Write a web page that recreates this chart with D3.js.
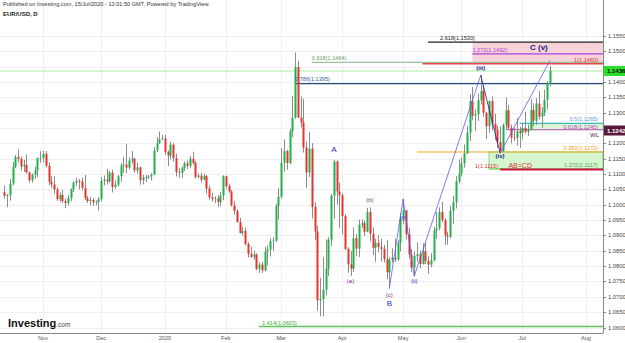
<!DOCTYPE html>
<html>
<head>
<meta charset="utf-8">
<script src="https://cdn.jsdelivr.net/npm/d3@7"></script>
<style>
  body { margin: 0; background: #fff; }
  svg { display: block; font-family: "Liberation Sans", Arial, sans-serif; }
</style>
</head>
<body>
<svg id="chart" width="625" height="343"></svg>
<script>
// daily EUR/USD candles, [open, high, low, close], weekdays from 14 Oct 2019
var oct2019 = [
  [1.1041,1.1063,1.1020,1.1029],[1.1029,1.1035,1.0992,1.1032],[1.1032,1.1084,1.1013,1.1069],
  [1.1069,1.1139,1.1063,1.1124],[1.1124,1.1162,1.1120,1.1156],[1.1156,1.1180,1.1138,1.1150],
  [1.1150,1.1157,1.1112,1.1125],[1.1125,1.1147,1.1107,1.1130],[1.1130,1.1164,1.1102,1.1105],
  [1.1105,1.1109,1.1072,1.1080],[1.1080,1.1102,1.1072,1.1098],[1.1098,1.1125,1.1084,1.1112],
  [1.1112,1.1154,1.1090,1.1152],[1.1152,1.1175,1.1137,1.1152]
];
var nov2019 = [
  [1.1152,1.1176,1.1138,1.1166],[1.1166,1.1175,1.1122,1.1127],[1.1127,1.1139,1.1064,1.1075],
  [1.1075,1.1093,1.1055,1.1066],[1.1066,1.1092,1.1036,1.1050],[1.1050,1.1057,1.1013,1.1018],
  [1.1018,1.1040,1.1010,1.1032],[1.1032,1.1048,1.1005,1.1012],[1.1012,1.1020,1.0989,1.1006],
  [1.1006,1.1032,1.0997,1.1022],[1.1022,1.1053,1.1012,1.1051],[1.1051,1.1077,1.1042,1.1072],
  [1.1072,1.1088,1.1062,1.1077],[1.1077,1.1084,1.1050,1.1076],[1.1076,1.1088,1.1046,1.1055],
  [1.1055,1.1097,1.1015,1.1021],[1.1021,1.1029,1.1006,1.1012],[1.1012,1.1026,1.0998,1.1016],
  [1.1016,1.1021,1.0996,1.1008],[1.1008,1.1014,1.0999,1.1010],[1.1010,1.1025,1.0981,1.1018]
];
var dec2019 = [
  [1.1018,1.1090,1.1011,1.1078],[1.1078,1.1095,1.1063,1.1082],[1.1082,1.1117,1.1066,1.1077],
  [1.1077,1.1110,1.1071,1.1105],[1.1105,1.1115,1.1040,1.1058],[1.1058,1.1079,1.1052,1.1065],
  [1.1065,1.1097,1.1060,1.1093],[1.1093,1.1136,1.1075,1.1128],[1.1128,1.1155,1.1105,1.1131],
  [1.1131,1.1199,1.1103,1.1121],[1.1121,1.1155,1.1115,1.1144],[1.1144,1.1175,1.1135,1.1150],
  [1.1150,1.1153,1.1105,1.1112],[1.1112,1.1137,1.1102,1.1122],[1.1122,1.1124,1.1065,1.1080],
  [1.1080,1.1097,1.1066,1.1089],[1.1089,1.1097,1.1074,1.1090],[1.1090,1.1097,1.1084,1.1092],
  [1.1092,1.1103,1.1079,1.1098],[1.1098,1.1188,1.1097,1.1177],[1.1177,1.1220,1.1172,1.1200],
  [1.1200,1.1239,1.1199,1.1213]
];
var jan2020 = [
  [1.1213,1.1228,1.1211,1.1216],[1.1216,1.1228,1.1163,1.1172],[1.1172,1.1177,1.1126,1.1160],
  [1.1160,1.1206,1.1148,1.1196],[1.1196,1.1201,1.1141,1.1152],[1.1152,1.1167,1.1092,1.1106],
  [1.1106,1.1121,1.1087,1.1104],[1.1104,1.1125,1.1087,1.1121],[1.1121,1.1141,1.1110,1.1135],
  [1.1135,1.1144,1.1116,1.1127],[1.1127,1.1159,1.1120,1.1150],[1.1150,1.1173,1.1131,1.1136],
  [1.1136,1.1143,1.1085,1.1091],[1.1091,1.1102,1.1087,1.1095],[1.1095,1.1104,1.1073,1.1082],
  [1.1082,1.1102,1.1081,1.1093],[1.1093,1.1097,1.1036,1.1053],[1.1053,1.1063,1.1016,1.1024],
  [1.1024,1.1039,1.1010,1.1019],[1.1019,1.1028,1.1005,1.1021],[1.1021,1.1032,1.0992,1.1009],
  [1.1009,1.1041,1.0995,1.1030],[1.1030,1.1096,1.1015,1.1093]
];
var feb2020 = [
  [1.1093,1.1095,1.1052,1.1061],[1.1061,1.1069,1.1039,1.1044],[1.1044,1.1048,1.0994,1.0998],
  [1.0998,1.1013,1.0967,1.0980],[1.0980,1.0985,1.0941,1.0944],[1.0944,1.0958,1.0906,1.0908],
  [1.0908,1.0928,1.0899,1.0915],[1.0915,1.0925,1.0867,1.0872],[1.0872,1.0878,1.0828,1.0840],
  [1.0840,1.0863,1.0827,1.0830],[1.0830,1.0850,1.0821,1.0838],[1.0838,1.0842,1.0786,1.0791],
  [1.0791,1.0812,1.0778,1.0805],[1.0805,1.0814,1.0778,1.0786],[1.0786,1.0863,1.0783,1.0847],
  [1.0847,1.0868,1.0802,1.0854],[1.0854,1.0891,1.0831,1.0881],[1.0881,1.0894,1.0850,1.0883],
  [1.0883,1.1004,1.0879,1.0996],[1.0996,1.1054,1.0952,1.1026]
];
var mar2020 = [
  [1.1026,1.1185,1.1020,1.1137],[1.1137,1.1213,1.1108,1.1175],[1.1175,1.1180,1.1114,1.1136],
  [1.1136,1.1248,1.1132,1.1240],[1.1240,1.1355,1.1220,1.1284],[1.1284,1.1496,1.1280,1.1449],
  [1.1449,1.1469,1.1283,1.1284],[1.1284,1.1353,1.1252,1.1268],[1.1268,1.1345,1.1170,1.1187],
  [1.1187,1.1206,1.1055,1.1105],[1.1105,1.1237,1.1091,1.1183],[1.1183,1.1201,1.0955,1.0993],
  [1.0993,1.1008,1.0884,1.0913],[1.0913,1.0932,1.0655,1.0689],[1.0689,1.0762,1.0637,1.0693],
  [1.0693,1.0829,1.0636,1.0723],[1.0723,1.0887,1.0705,1.0792],[1.0792,1.0894,1.0768,1.0886],
  [1.0886,1.1035,1.0865,1.1030],[1.1030,1.1147,1.0955,1.1141],[1.1141,1.1145,1.1000,1.1043],
  [1.1043,1.1072,1.0925,1.1031]
];
var apr2020 = [
  [1.1031,1.1036,1.0904,1.0963],[1.0963,1.0970,1.0852,1.0856],[1.0856,1.0862,1.0779,1.0806],
  [1.0806,1.0850,1.0768,1.0792],[1.0792,1.0926,1.0781,1.0891],[1.0891,1.0905,1.0832,1.0857],
  [1.0857,1.0952,1.0830,1.0935],[1.0935,1.0953,1.0925,1.0940],[1.0940,1.0949,1.0898,1.0912],
  [1.0912,1.0990,1.0910,1.0976],[1.0976,1.0992,1.0881,1.0905],[1.0905,1.0926,1.0836,1.0860],
  [1.0860,1.0889,1.0814,1.0876],[1.0876,1.0901,1.0845,1.0862],[1.0862,1.0890,1.0815,1.0856],
  [1.0856,1.0869,1.0812,1.0823],[1.0823,1.0886,1.0757,1.0780],[1.0780,1.0829,1.0727,1.0820],
  [1.0820,1.0858,1.0812,1.0827],[1.0827,1.0890,1.0813,1.0822],[1.0822,1.0885,1.0817,1.0875],
  [1.0875,1.0973,1.0848,1.0954]
];
var may2020 = [
  [1.0954,1.1019,1.0937,1.0982],[1.0982,1.0983,1.0887,1.0904],[1.0904,1.0926,1.0824,1.0838],
  [1.0838,1.0855,1.0781,1.0796],[1.0796,1.0848,1.0767,1.0833],[1.0833,1.0877,1.0815,1.0839],
  [1.0839,1.0850,1.0794,1.0807],[1.0807,1.0874,1.0805,1.0848],[1.0848,1.0876,1.0806,1.0817],
  [1.0817,1.0832,1.0775,1.0805],[1.0805,1.0842,1.0796,1.0819],[1.0819,1.0928,1.0815,1.0916],
  [1.0916,1.0977,1.0889,1.0923],[1.0923,1.0992,1.0917,1.0977],[1.0977,1.1009,1.0943,1.0950],
  [1.0950,1.0955,1.0869,1.0900],[1.0900,1.0912,1.0870,1.0896],[1.0896,1.0996,1.0890,1.0980],
  [1.0980,1.1030,1.0938,1.1008],[1.1008,1.1093,1.0988,1.1077],[1.1077,1.1147,1.1070,1.1101]
];
var jun2020 = [
  [1.1101,1.1154,1.1093,1.1135],[1.1135,1.1196,1.1121,1.1168],[1.1168,1.1257,1.1166,1.1235],
  [1.1235,1.1361,1.1208,1.1338],[1.1338,1.1384,1.1275,1.1290],[1.1290,1.1311,1.1241,1.1295],
  [1.1295,1.1362,1.1273,1.1341],[1.1341,1.1422,1.1327,1.1371],[1.1371,1.1389,1.1287,1.1300],
  [1.1300,1.1303,1.1214,1.1256],[1.1256,1.1340,1.1235,1.1338],[1.1338,1.1353,1.1242,1.1264],
  [1.1264,1.1297,1.1211,1.1245],[1.1245,1.1257,1.1185,1.1204],[1.1204,1.1256,1.1168,1.1175],
  [1.1175,1.1265,1.1171,1.1260],[1.1260,1.1349,1.1247,1.1308],[1.1308,1.1325,1.1245,1.1251],
  [1.1251,1.1261,1.1200,1.1219],[1.1219,1.1250,1.1208,1.1218],[1.1218,1.1283,1.1193,1.1240],
  [1.1240,1.1255,1.1186,1.1234]
];
var jul2020 = [
  [1.1234,1.1265,1.1213,1.1250],[1.1250,1.1303,1.1232,1.1238],[1.1238,1.1262,1.1224,1.1245],
  [1.1245,1.1345,1.1244,1.1309],[1.1309,1.1330,1.1256,1.1274],[1.1274,1.1347,1.1260,1.1330],
  [1.1330,1.1371,1.1278,1.1287],[1.1287,1.1318,1.1251,1.1300],[1.1300,1.1375,1.1289,1.1342],
  [1.1342,1.1403,1.1311,1.1397],[1.1397,1.1452,1.1386,1.1436]
];

var priceTicks = [1.1550,1.1500,1.1450,1.1400,1.1350,1.1300,1.1250,1.1200,1.1150,1.1100,
  1.1050,1.1000,1.0950,1.0900,1.0850,1.0800,1.0750,1.0700,1.0650,1.0600];
var monthLabels = ["Nov","Dec","2020","Feb","Mar","Apr","May","Jun","Jul","Aug"];
var monthStarts = ["2019-11-01","2019-12-02","2020-01-02","2020-02-03","2020-03-02",
  "2020-04-01","2020-05-01","2020-06-01","2020-07-01","2020-08-03"];

// fibonacci / target levels drawn on the chart: [label, price, start date]
var fibLevels = [
  ["2.618(1.1530)", 1.1530, "2020-05-14"],
  ["1.272(1.1492)", 1.1492, "2020-06-05"],
  ["1(1.1460)",     1.1460, "2020-05-12"],
  ["0.618(1.1464)", 1.1464, "2020-03-17"],
  ["0.786(1.1395)", 1.1395, "2020-03-09"],
  ["0.5(1.1265)",   1.1265, "2020-06-30"],
  ["0.618(1.1245)", 1.1245, "2020-06-23"],
  ["0.382(1.1172)", 1.1172, "2020-05-08"],
  ["1.272(1.1117)", 1.1117, "2020-06-15"],
  ["1(1.1115)",     1.1115, "2020-06-19"],
  ["1.414(1.0603)", 1.0603, "2020-02-19"]
];
var lastPrice = 1.1436;
var markPrice = 1.1242;

// elliott wave pivots: [date, price]
var wavePoints = [
  ["2020-04-24",1.0727],["2020-05-01",1.1019],["2020-05-07",1.0767],
  ["2020-06-10",1.1422],["2020-06-19",1.1168],["2020-07-15",1.1470]
];
// wave labels: [text, date, price, group]
var waveLabels = [
  ["A","2020-03-27",1.1172,"major"],["B","2020-04-24",1.0670,"major"],
  ["(a)","2020-04-06",1.0745,"minor"],["(b)","2020-04-15",1.1010,"minor"],["(c)","2020-04-24",1.0700,"minor"],
  ["(i)","2020-05-01",1.0950,"sub"],["(ii)","2020-05-07",1.0745,"sub"],
  ["(iii)","2020-06-10",1.1440,"top"],["(iv)","2020-06-19",1.1152,"top"],["C (v)","2020-07-09",1.1503,"top"]
];

var svg = d3.select("#chart");
var plotRight = 603, plotBottom = 333;

var allCandles = [].concat(oct2019, nov2019, dec2019, jan2020, feb2020, mar2020, apr2020, may2020, jun2020, jul2020);
var days = d3.timeDay.range(new Date(2019, 9, 14), new Date(2020, 7, 8))
  .filter(function(d){ return d.getDay() > 0 && d.getDay() < 6; });
var fmt = d3.timeFormat("%Y-%m-%d");
var dayIndex = {};
days.forEach(function(d, i){ dayIndex[fmt(d)] = i; });

var x = d3.scaleLinear().domain([14, 210]).range([43, 586]);
var y = d3.scaleLinear().domain([1.0600, 1.1550]).range([327.5, 36]);
var xd = function(s){ return x(dayIndex[s]); };

svg.append("defs").append("clipPath").attr("id", "plot")
  .append("rect").attr("x", 0).attr("y", 0).attr("width", plotRight).attr("height", plotBottom);

// grid
var grid = svg.append("g").attr("clip-path", "url(#plot)");
grid.selectAll(".hg").data(priceTicks).enter().append("line")
  .attr("x1", 0).attr("x2", plotRight)
  .attr("y1", function(d){ return Math.round(y(d)) + 0.5; })
  .attr("y2", function(d){ return Math.round(y(d)) + 0.5; })
  .style("stroke", "#efefef");
grid.selectAll(".vg").data(monthStarts).enter().append("line")
  .attr("x1", function(d){ return Math.round(xd(d)) + 0.5; })
  .attr("x2", function(d){ return Math.round(xd(d)) + 0.5; })
  .attr("y1", 0).attr("y2", plotBottom)
  .style("stroke", "#efefef");

// header text
svg.append("text").attr("x", 3).attr("y", 6).attr("font-size", 5.6).attr("fill", "#333")
  .text("Published on Investing.com, 15/Jul/2020 - 13:01:50 GMT, Powered by TradingView.");
svg.append("text").attr("x", 3).attr("y", 16).attr("font-size", 6).attr("font-weight", "bold").attr("fill", "#222")
  .text("EUR/USD, D");

var plot = svg.append("g").attr("clip-path", "url(#plot)");

// boxes behind the levels
var levelY = function(label){ return y(fibLevels.find(function(l){ return l[0] == label; })[1]); };
plot.append("rect")
  .attr("x", xd("2020-06-05")).attr("y", levelY("2.618(1.1530)"))
  .attr("width", plotRight - xd("2020-06-05"))
  .attr("height", levelY("1(1.1460)") - levelY("2.618(1.1530)"))
  .style("fill", "#f7d3d8");
plot.append("rect")
  .attr("x", xd("2020-06-15")).attr("y", levelY("0.382(1.1172)"))
  .attr("width", plotRight - xd("2020-06-15"))
  .attr("height", levelY("1.272(1.1117)") - levelY("0.382(1.1172)"))
  .style("fill", "#d5f7d0").style("stroke", "#7fdc6f").style("stroke-width", 1);
plot.append("rect")
  .attr("x", xd("2020-07-06")).attr("y", levelY("0.5(1.1265)"))
  .attr("width", plotRight - xd("2020-07-06"))
  .attr("height", levelY("0.618(1.1245)") - levelY("0.5(1.1265)"))
  .style("fill", "#dcf7d6").style("stroke", "#7fdc6f").style("stroke-width", 1);

// last price line
plot.append("line").attr("x1", 0).attr("x2", plotRight)
  .attr("y1", y(lastPrice)).attr("y2", y(lastPrice))
  .style("stroke", "#a6f0a0").style("stroke-width", 1);

// level lines
var levelStyle = {
  "2.618(1.1530)": ["#222", 1.2], "1.272(1.1492)": ["#b040e0", 1.2], "1(1.1460)": ["#f0404a", 2],
  "0.618(1.1464)": ["#9cc39c", 1.2], "0.786(1.1395)": ["#234e7e", 1.2], "0.5(1.1265)": ["#3fb8c0", 1.2],
  "0.618(1.1245)": ["#c070c0", 1.2], "0.382(1.1172)": ["#f5a623", 1.2], "1.272(1.1117)": ["#7fdc6f", 1.2],
  "1(1.1115)": ["#d0104a", 2], "1.414(1.0603)": ["#5ec45e", 1.5]
};
plot.selectAll(".lvl").data(fibLevels).enter().append("line")
  .attr("x1", function(d){ return xd(d[2]); }).attr("x2", plotRight)
  .attr("y1", function(d){ return y(d[1]); }).attr("y2", function(d){ return y(d[1]); })
  .style("stroke", function(d){ return levelStyle[d[0]][0]; })
  .style("stroke-width", function(d){ return levelStyle[d[0]][1]; });

// candles
var bw = 2;
var candles = plot.selectAll(".c").data(allCandles).enter().append("g");
candles.append("line")
  .attr("x1", function(d, i){ return Math.round(x(i)) + 0.5; })
  .attr("x2", function(d, i){ return Math.round(x(i)) + 0.5; })
  .attr("y1", function(d){ return y(d[1]); })
  .attr("y2", function(d){ return y(d[2]); })
  .style("stroke", "#8c8c8c").style("stroke-width", 1);
candles.append("rect")
  .attr("x", function(d, i){ return Math.round(x(i)) + 0.5 - bw / 2; })
  .attr("width", bw)
  .attr("y", function(d){ return y(Math.max(d[0], d[3])); })
  .attr("height", function(d){ return Math.max(0.8, Math.abs(y(d[0]) - y(d[3]))); })
  .style("fill", function(d){ return d[3] >= d[0] ? "#1fb24a" : "#e3342f"; });

// level labels
var labelPos = {
  "2.618(1.1530)": ["start", 12, -2.5], "1.272(1.1492)": ["start", 0, -2], "1(1.1460)": ["end", null, -2],
  "0.618(1.1464)": ["start", 0, -2.5], "0.786(1.1395)": ["start", 0, -2.5], "0.5(1.1265)": ["end", null, -2],
  "0.618(1.1245)": ["end", null, -1], "0.382(1.1172)": ["end", null, -2], "1.272(1.1117)": ["end", null, -1.5],
  "1(1.1115)": ["end", -2, -1.5], "1.414(1.0603)": ["start", 3, -2]
};
var labelColor = {
  "2.618(1.1530)": "#222", "1.272(1.1492)": "#b040e0", "1(1.1460)": "#e0303a", "0.618(1.1464)": "#6a9a6a",
  "0.786(1.1395)": "#2f5f9f", "0.5(1.1265)": "#5b9bd5", "0.618(1.1245)": "#c040c0", "0.382(1.1172)": "#f59a23",
  "1.272(1.1117)": "#5aa05a", "1(1.1115)": "#e0303a", "1.414(1.0603)": "#3aaa3a"
};
plot.selectAll(".lbl").data(fibLevels).enter().append("text")
  .attr("x", function(d){
    var p = labelPos[d[0]];
    return p[1] === null ? plotRight - 5 : xd(d[2]) + p[1];
  })
  .attr("y", function(d){ return y(d[1]) + labelPos[d[0]][2]; })
  .attr("text-anchor", function(d){ return labelPos[d[0]][0]; })
  .attr("font-size", 5.6)
  .attr("fill", function(d){ return labelColor[d[0]]; })
  .text(function(d){ return d[0]; });

plot.append("text").attr("x", xd("2020-06-24")).attr("y", levelY("1(1.1115)") - 1.5)
  .attr("font-size", 7).attr("fill", "#e0303a").text("AB=CD");
plot.append("text").attr("x", plotRight - 4).attr("y", y(markPrice) + 6).attr("text-anchor", "end")
  .attr("font-size", 6).attr("fill", "#5a1a3a").text("WL");

// wave lines
var waveLine = d3.line().x(function(d){ return xd(d[0]); }).y(function(d){ return y(d[1]); });
plot.append("path").datum(wavePoints.slice(0, 4)).attr("d", waveLine)
  .style("fill", "none").style("stroke", "#5b5bf0").style("stroke-width", 0.8);
plot.append("path").datum(wavePoints.slice(3, 5)).attr("d", waveLine)
  .style("fill", "none").style("stroke", "#1a237e").style("stroke-width", 0.8);
plot.append("path").datum(wavePoints.slice(4, 6)).attr("d", waveLine)
  .style("fill", "none").style("stroke", "#5b5bf0").style("stroke-width", 0.8);

var waveColor = { major: "#2b2bd0", minor: "#8a2a8a", sub: "#2b2bd0", top: "#1a1a80" };
plot.selectAll(".wl").data(waveLabels).enter().append("text")
  .attr("x", function(d){ return xd(d[1]); })
  .attr("y", function(d){ return y(d[2]); })
  .attr("text-anchor", "middle")
  .attr("font-size", function(d){ return d[3] == "major" || d[0] == "C (v)" ? 8 : 6; })
  .attr("font-weight", function(d){ return d[3] == "top" ? "bold" : "normal"; })
  .attr("fill", function(d){ return waveColor[d[3]]; })
  .text(function(d){ return d[0]; });

// right axis
svg.append("line").attr("x1", plotRight + 0.5).attr("x2", plotRight + 0.5).attr("y1", 0).attr("y2", plotBottom)
  .style("stroke", "#888");
var boxPrices = [lastPrice, markPrice];
var shownTicks = priceTicks.filter(function(p){
  return boxPrices.every(function(b){ return Math.abs(y(p) - y(b)) > 5; });
});
var ya = svg.append("g");
ya.selectAll("line").data(priceTicks).enter().append("line")
  .attr("x1", plotRight).attr("x2", plotRight + 3)
  .attr("y1", function(d){ return Math.round(y(d)) + 0.5; })
  .attr("y2", function(d){ return Math.round(y(d)) + 0.5; })
  .style("stroke", "#888");
ya.selectAll("text").data(shownTicks).enter().append("text")
  .attr("x", plotRight + 5).attr("y", function(d){ return y(d) + 2; })
  .attr("font-size", 5.8).attr("fill", "#444")
  .text(function(d){ return d3.format(".4f")(d); });

// price boxes
[[lastPrice, "#2be02b", "#000"], [markPrice, "#5a1a3a", "#fff"]].forEach(function(b){
  svg.append("rect").attr("x", plotRight + 1).attr("y", y(b[0]) - 5).attr("width", 22).attr("height", 10)
    .style("fill", b[1]);
  svg.append("text").attr("x", plotRight + 4).attr("y", y(b[0]) + 2.2).attr("font-size", 6)
    .attr("font-weight", "bold").attr("fill", b[2]).text(d3.format(".4f")(b[0]));
});

// bottom axis
svg.append("line").attr("x1", 0).attr("x2", plotRight + 0.5).attr("y1", plotBottom + 0.5).attr("y2", plotBottom + 0.5)
  .style("stroke", "#888");
svg.selectAll(".mt").data(monthStarts).enter().append("text")
  .attr("x", function(d){ return xd(d); }).attr("y", 340)
  .attr("text-anchor", "middle").attr("font-size", 5.6).attr("fill", "#555")
  .text(function(d, i){ return monthLabels[i]; });

// logo
var logo = svg.append("text").attr("x", 8).attr("y", 327);
logo.append("tspan").attr("font-size", 11).attr("font-weight", "bold").attr("fill", "#111").text("Investing");
logo.append("tspan").attr("font-size", 6.5).attr("fill", "#444").text(".com");
</script>
</body>
</html>
